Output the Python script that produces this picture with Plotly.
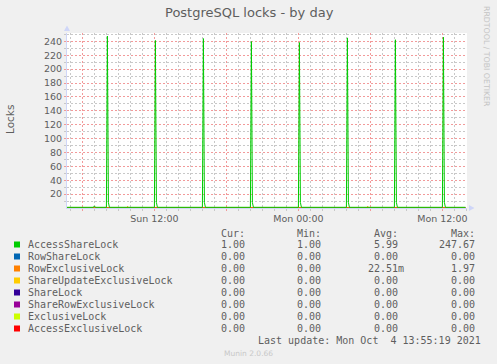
import plotly.graph_objects as go
import pandas as pd

# ---------------- data ----------------
series_names = ["AccessShareLock", "RowShareLock", "RowExclusiveLock",
                "ShareUpdateExclusiveLock", "ShareLock", "ShareRowExclusiveLock",
                "ExclusiveLock", "AccessExclusiveLock"]
series_colors = ["#00CC00", "#0066B3", "#FF8000", "#FFCC00",
                 "#330099", "#990099", "#CCFF00", "#FF0000"]

# AccessShareLock (5-minute samples, only the points where the value changes)
asl_times = [
    "2021-10-03 04:40", "2021-10-03 06:55", "2021-10-03 07:00", "2021-10-03 07:05",
    "2021-10-03 08:00", "2021-10-03 08:05", "2021-10-03 08:10", "2021-10-03 08:15",
    "2021-10-03 12:00", "2021-10-03 12:05", "2021-10-03 12:10", "2021-10-03 12:15",
    "2021-10-03 16:00", "2021-10-03 16:05", "2021-10-03 16:10", "2021-10-03 16:15",
    "2021-10-03 20:00", "2021-10-03 20:05", "2021-10-03 20:10", "2021-10-03 20:15",
    "2021-10-04 00:00", "2021-10-04 00:05", "2021-10-04 00:10", "2021-10-04 00:15",
    "2021-10-04 04:00", "2021-10-04 04:05", "2021-10-04 04:10", "2021-10-04 04:15",
    "2021-10-04 08:00", "2021-10-04 08:05", "2021-10-04 08:10", "2021-10-04 08:15",
    "2021-10-04 12:00", "2021-10-04 12:05", "2021-10-04 12:10", "2021-10-04 12:15",
    "2021-10-04 13:55",
]
asl_values = [
    1, 1, 3, 1,
    1, 247.67, 8, 1,
    1, 241.3, 8, 1,
    1, 244.0, 8, 1,
    1, 239.7, 8, 1,
    1, 238.3, 8, 1,
    1, 245.0, 8, 1,
    1, 242.3, 8, 1,
    1, 246.0, 8, 1,
    1,
]

# RowExclusiveLock
rel_times = [
    "2021-10-03 04:40", "2021-10-03 09:40", "2021-10-03 09:45", "2021-10-03 09:50",
    "2021-10-03 09:55", "2021-10-04 05:40", "2021-10-04 05:45", "2021-10-04 05:50",
    "2021-10-04 05:55", "2021-10-04 13:55",
]
rel_values = [0, 0, 1.97, 1.0, 0, 0, 1.97, 1.5, 0, 0]

# the other series are flat at zero
zero_times = ["2021-10-03 04:40", "2021-10-04 13:55"]
zero_values = [0, 0]

cur_vals = ["1.00", "0.00", "0.00", "0.00", "0.00", "0.00", "0.00", "0.00"]
min_vals = ["1.00", "0.00", "0.00", "0.00", "0.00", "0.00", "0.00", "0.00"]
avg_vals = ["5.99", "0.00", "22.51m", "0.00", "0.00", "0.00", "0.00", "0.00"]
max_vals = ["247.67", "0.00", "1.97", "0.00", "0.00", "0.00", "0.00", "0.00"]

x_tick_vals = ["2021-10-03 06:00", "2021-10-03 12:00", "2021-10-03 18:00",
               "2021-10-04 00:00", "2021-10-04 06:00", "2021-10-04 12:00"]
x_tick_text = ["", "Sun 12:00", "", "Mon 00:00", "", "Mon 12:00"]
y_tick_vals = [20, 40, 60, 80, 100, 120, 140, 160, 180, 200, 220, 240]

X_START, X_END = "2021-10-03 04:43", "2021-10-04 14:03"
Y_MAX = 252

# minor grid positions (hourly / every 10), skipping the major ones
hours = pd.date_range("2021-10-03 05:00", "2021-10-04 14:00", freq="1h")
x_minor = [h.strftime("%Y-%m-%d %H:%M") for h in hours if h.hour % 6 != 0]
y_minor = [v for v in range(10, 260, 10) if v % 20 != 0]

# ---------------- layout helpers ----------------
W, H = 497, 364
L, T, PW, PH = 67, 33, 400, 175
B = T + PH


def px(x):
    return (x - L) / PW


def py(y):
    return (B - y) / PH


FONT = "DejaVu Sans"
MONO = "DejaVu Sans Mono"
TXT = "#5e5e5e"
MGRID = "#F29A9A"
GRID = "#C8C8C8"
AXIS = "#CFD6F8"
DASH = "2px,2px"

fig = go.Figure()

# zero series first, then RowExclusiveLock, AccessShareLock on top
for i, name in enumerate(series_names):
    if i in (0, 2):
        continue
    fig.add_trace(go.Scatter(x=zero_times, y=zero_values, mode="lines",
                             line=dict(color=series_colors[i], width=1),
                             name=name, hoverinfo="skip"))
fig.add_trace(go.Scatter(x=rel_times, y=rel_values, mode="lines",
                         line=dict(color=series_colors[2], width=1),
                         name=series_names[2]))
fig.add_trace(go.Scatter(x=asl_times, y=asl_values, mode="lines",
                         line=dict(color=series_colors[0], width=1),
                         name=series_names[0]))

fig.update_layout(
    width=W, height=H,
    margin=dict(l=L, r=W - L - PW, t=T, b=H - B, pad=0),
    paper_bgcolor="#F0F0F0", plot_bgcolor="#FFFFFF",
    showlegend=False,
    font=dict(family=FONT, color=TXT, size=10),
)

fig.update_xaxes(
    type="date", range=[X_START, X_END],
    tickmode="array", tickvals=x_tick_vals, ticktext=x_tick_text,
    showgrid=True, gridcolor=MGRID, griddash=DASH, gridwidth=1,
    ticks="outside", ticklen=2, tickcolor=MGRID,
    tickfont=dict(family=FONT, size=9.5, color=TXT),
    minor=dict(tickmode="array", tickvals=x_minor,
               showgrid=True, gridcolor=GRID, griddash=DASH, gridwidth=1,
               ticks="outside", ticklen=2, tickcolor=GRID),
    showline=True, linecolor=AXIS, linewidth=1, zeroline=False,
    layer="below traces", fixedrange=True,
)
fig.update_yaxes(
    range=[0, Y_MAX],
    tickmode="array", tickvals=y_tick_vals, ticktext=[str(v) for v in y_tick_vals],
    showgrid=True, gridcolor=MGRID, griddash=DASH, gridwidth=1,
    ticks="outside", ticklen=2, tickcolor=MGRID,
    tickfont=dict(family=FONT, size=9.5, color=TXT),
    minor=dict(tickmode="array", tickvals=y_minor,
               showgrid=True, gridcolor=GRID, griddash=DASH, gridwidth=1,
               ticks="outside", ticklen=2, tickcolor=GRID),
    showline=True, linecolor=AXIS, linewidth=1, zeroline=False,
    layer="below traces", fixedrange=True,
)

ann = []


def text(x, y, s, size=10, family=MONO, color=TXT, xanchor="left", angle=0):
    ann.append(dict(x=px(x), y=py(y), xref="paper", yref="paper", text=s,
                    showarrow=False, xanchor=xanchor, yanchor="middle",
                    textangle=angle, font=dict(family=family, size=size, color=color)))


# title and side texts
text(249, 13, "PostgreSQL locks - by day", size=13, family=FONT, xanchor="center")
text(10, 120, "Locks", size=10.5, family=FONT, xanchor="center", angle=-90)
text(487, 56, "RRDTOOL / TOBI OETIKER", size=7.8, family=FONT, color="#C4C4C4",
     xanchor="center", angle=90)
text(248.5, 353, "Munin 2.0.66", size=7.5, family=FONT, color="#C8C8C8", xanchor="center")

# legend table
col_right = [253, 329, 405.7, 482.7]
headers = ["Cur:", "Min:", "Avg:", "Max:"]
for j, h in enumerate(headers):
    text(col_right[j], 233, h + "\u00a0", xanchor="right")

shapes = []
for i, name in enumerate(series_names):
    yc = 244.5 + 12 * i
    shapes.append(dict(type="rect", xref="paper", yref="paper",
                       x0=px(14), x1=px(20), y0=py(yc + 3), y1=py(yc - 3),
                       fillcolor=series_colors[i], line=dict(width=0)))
    text(26, yc, name)
    for j, col in enumerate([cur_vals, min_vals, avg_vals, max_vals]):
        v = col[i]
        s = v if v[-1].isalpha() else v + "\u00a0"
        text(col_right[j], yc, s, xanchor="right")

text(482.7, 340, "Last update: Mon Oct\u00a0\u00a04 13:55:19 2021", xanchor="right")

# axis arrows
shapes.append(dict(type="path", xref="paper", yref="paper",
                   path=f"M {px(469)},{py(B - 3)} L {px(474.5)},{py(B)} L {px(469)},{py(B + 3)} Z",
                   fillcolor=AXIS, line=dict(width=0)))
shapes.append(dict(type="path", xref="paper", yref="paper",
                   path=f"M {px(L - 3)},{py(31)} L {px(L)},{py(25.5)} L {px(L + 3)},{py(31)} Z",
                   fillcolor=AXIS, line=dict(width=0)))

fig.update_layout(annotations=ann, shapes=shapes)

fig.write_html("out.html", config={"displayModeBar": False})
